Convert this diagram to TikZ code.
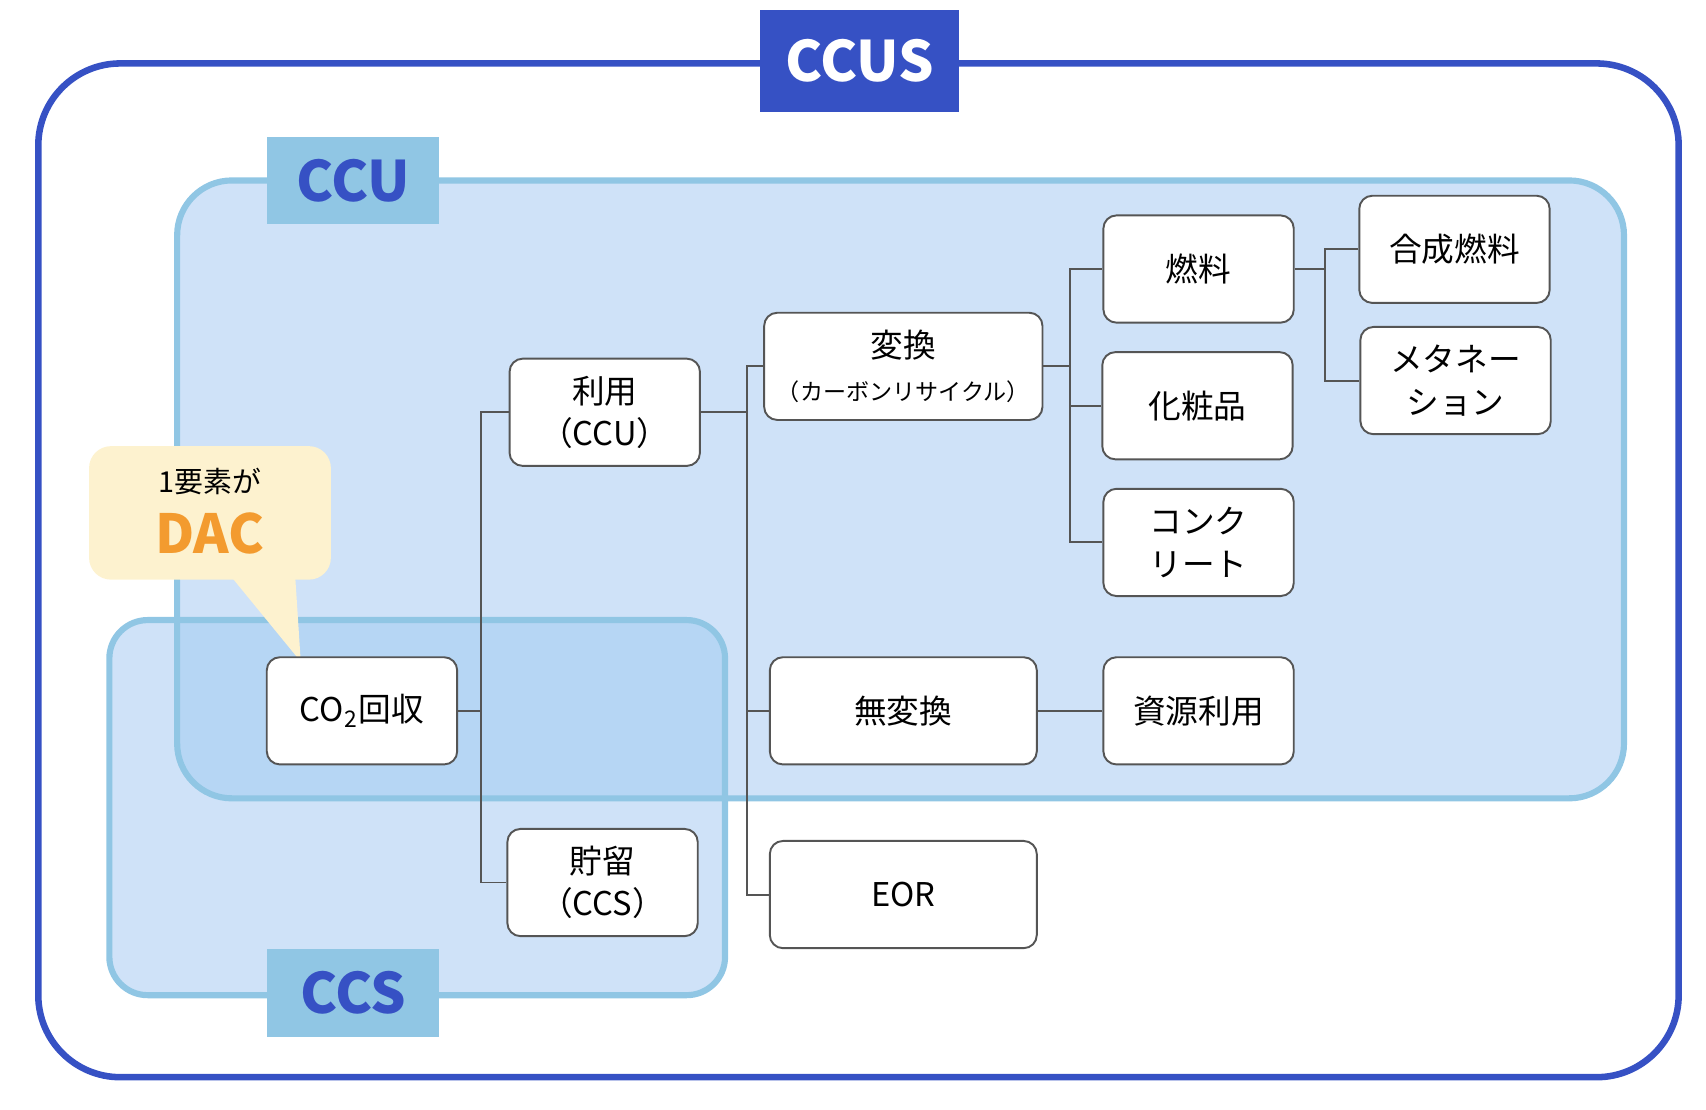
\documentclass[tikz,border=0pt]{standalone}
\usepackage{fontspec}
\setmainfont{Noto Sans CJK JP}
\usetikzlibrary{positioning}
\definecolor{ccusblue}{HTML}{3651C4}
\definecolor{ccublue}{HTML}{90C6E4}
\definecolor{regfill}{HTML}{CFE2F8}
\definecolor{overfill}{HTML}{B6D6F4}
\definecolor{callfill}{HTML}{FDF2CF}
\definecolor{dacorange}{HTML}{F39B2F}
\definecolor{boxline}{HTML}{555555}
\tikzstyle{block} = [draw = boxline, fill = white, line width = 0.5pt, rectangle, rounded corners = 0.12cm, minimum height = 0.98cm, minimum width = 1.74cm, align = center, font = \fontsize{8.5}{11}\selectfont]
\tikzstyle{wide} = [block, minimum width = 2.44cm]
\tikzstyle{link} = [draw = boxline, line width = 0.5pt]
\tikzstyle{tag} = [rectangle, inner sep = 0pt, font = \fontsize{14.5}{16}\selectfont\bfseries]

\begin{document}
\begin{tikzpicture}[x = 0.01cm, y = -0.01cm]
	\useasboundingbox (0,0) rectangle (1560,1015);
	
		% Outer CCUS frame
		\draw[ccusblue, line width = 1.7pt, rounded corners = 0.75cm] (35,58) rectangle (1535,985);
		\node[tag, fill = ccusblue, text = white, minimum width = 1.82cm, minimum height = 0.93cm] (ccus) at (786,56) {CCUS};
		
		% Regions
		\fill[regfill, rounded corners = 0.5cm] (162,165) rectangle (1485,730);
		\fill[regfill, rounded corners = 0.35cm] (100,567) rectangle (663,910);
		\begin{scope}
			\clip[rounded corners = 0.5cm] (162,165) rectangle (1485,730);
			\fill[overfill, rounded corners = 0.35cm] (100,567) rectangle (663,910);
		\end{scope}
		\draw[ccublue, line width = 1.6pt, rounded corners = 0.5cm] (162,165) rectangle (1485,730);
		\draw[ccublue, line width = 1.6pt, rounded corners = 0.35cm] (100,567) rectangle (663,910);
		\node[tag, fill = ccublue, text = ccusblue, minimum width = 1.57cm, minimum height = 0.8cm] (ccu) at (323,165) {CCU};
		\node[tag, fill = ccublue, text = ccusblue, minimum width = 1.57cm, minimum height = 0.8cm] (ccs) at (323,908) {CCS};
		
		% Callout
		\fill[callfill] (212,528) -- (275,605) -- (270,528) -- cycle;
		\node[fill = callfill, rounded corners = 0.2cm, minimum width = 2.21cm, minimum height = 1.22cm, inner sep = 0pt] (dac) at (192,469) {};
		\node[font = \fontsize{7.5}{9}\selectfont] (dactop) at (192,440) {1要素が};
		\node[font = \fontsize{14}{16}\selectfont\bfseries, text = dacorange] (dacname) at (192,488) {DAC};
		
		% Boxes
		\node[block] (co2) at (331,650) {CO\textsubscript{2}回収};
		\node[block] (use) at (553,377) {利用\\（CCU）};
		\node[block] (store) at (551,807) {貯留\\（CCS）};
		\node[wide] (conv) at (826,335) {変換\\{\fontsize{6}{8}\selectfont（カーボンリサイクル）}};
		\node[wide] (noconv) at (826,650) {無変換};
		\node[wide] (eor) at (826,818) {EOR};
		\node[block] (fuel) at (1096,246) {燃料};
		\node[block] (cosm) at (1095,371) {化粧品};
		\node[block] (concr) at (1096,496) {コンク\\リート};
		\node[block] (res) at (1096,650) {資源利用};
		\node[block] (synf) at (1330,228) {合成燃料};
		\node[block] (meth) at (1331,348) {メタネー\\ション};
		
		% Junctions
		\coordinate (j1) at (440,650);
		\coordinate (j2) at (683,377);
		\coordinate (j3) at (978,335);
		\coordinate (j4) at (1212,246);
		
		% Connect all nodes defined above
		\draw[link] (co2.east) -- (j1) |- (use.west);
		\draw[link] (j1) |- (store.west);
		\draw[link] (use.east) -- (j2) |- (conv.west);
		\draw[link] (j2) |- (noconv.west);
		\draw[link] (j2) |- (eor.west);
		\draw[link] (conv.east) -- (j3) |- (fuel.west);
		\draw[link] (j3) |- (cosm.west);
		\draw[link] (j3) |- (concr.west);
		\draw[link] (fuel.east) -- (j4) |- (synf.west);
		\draw[link] (j4) |- (meth.west);
		\draw[link] (noconv) -- (res);
		
	\end{tikzpicture}
\end{document}
